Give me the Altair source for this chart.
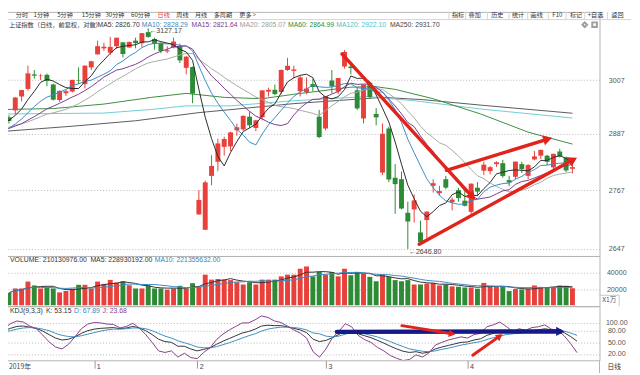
import altair as alt
import pandas as pd

# ------------------------------------------------------------------ data
opens = [2924, 2939, 2970, 2987, 3020, 3016, 3019, 2997, 2962, 2977,
         2981, 3006, 2998, 3036, 3066, 3080, 3070, 3085, 3094, 3082,
         3098, 3092, 3118, 3102, 3093, 3073, 3082, 3085, 3035, 3037,
         2716.7, 2685.3, 2797, 2827, 2859, 2860, 2895, 2897, 2925, 2900,
         2924, 2981, 2985, 2980, 3030, 3028, 2982, 2980, 2998, 2925,
         2899, 3006, 2981, 3038, 3038, 2984, 2921, 3001, 2931, 2804,
         2899, 2793, 2790, 2720, 2727, 2680, 2705, 2776, 2761, 2790,
         2742, 2767, 2745, 2722, 2772, 2808, 2807, 2822, 2824, 2788,
         2795, 2822, 2797, 2832, 2840, 2840, 2815, 2849, 2836, 2812]
highs = [2928, 2968.5, 2985, 3040, 3030, 3021, 3022, 2999, 2983.5, 2986,
         3008, 3036, 3041, 3051, 3098, 3093, 3107, 3105, 3095, 3096,
         3105, 3116, 3127.17, 3105, 3094, 3085, 3105, 3091, 3062, 3038,
         2767, 2787, 2841, 2876.5, 2881, 2892, 2910, 2927.5, 2937, 2918,
         2984, 2990, 2997, 3031, 3058, 3040, 3017, 3013, 3010, 2940,
         2971, 3030, 3012, 3076, 3041, 2991, 2997, 3002, 2944, 2910,
         2903, 2822, 2806, 2743, 2758, 2704, 2723, 2790, 2776, 2797,
         2752, 2772, 2770, 2781, 2784, 2827, 2818, 2828, 2831, 2797,
         2827.5, 2827, 2822, 2850, 2853, 2842, 2844, 2855, 2838, 2825]
lows = [2910, 2930, 2959, 2983, 3010, 3007, 2993, 2961, 2958, 2971,
        2979, 2998, 2988, 3030, 3066, 3074, 3065, 3079, 3059, 3082,
        3080, 3083, 3105, 3077, 3069, 3069, 3080, 3046, 3020, 2955,
        2716, 2685.3, 2777, 2807, 2840, 2850, 2883, 2894, 2900, 2893,
        2917, 2970, 2973, 2975, 3028, 3011, 2970, 2975, 2982, 2878,
        2895, 2977, 2975, 3033, 3020, 2940, 2910, 2965, 2906, 2799,
        2784, 2718, 2727, 2646.8, 2700, 2659, 2668, 2762, 2756, 2769,
        2725, 2743, 2733, 2717, 2755, 2799, 2800, 2816, 2793, 2775,
        2790, 2803, 2790, 2830, 2833, 2820, 2808, 2836, 2805, 2802]
closes = [2915.7, 2967.7, 2984.4, 3022.4, 3017.0, 3017.1, 3004.9, 2962.8, 2982.7, 2981.9,
          3007.4, 3005.0, 3040.0, 3050.1, 3085.2, 3083.8, 3083.4, 3104.8, 3066.9, 3094.9,
          3092.3, 3115.6, 3106.8, 3090.0, 3074.1, 3075.5, 3095.8, 3052.1, 3060.8, 2976.5,
          2746.6, 2783.3, 2818.1, 2866.5, 2876.0, 2890.5, 2901.7, 2926.9, 2906.1, 2917.0,
          2983.6, 2985.0, 2975.4, 3030.2, 3039.7, 3031.2, 3013.1, 2987.9, 2991.3, 2880.3,
          2970.9, 2992.9, 3011.7, 3071.7, 3034.5, 2943.3, 2996.8, 2968.5, 2923.5, 2887.4,
          2789.3, 2779.6, 2728.8, 2702.1, 2745.6, 2660.2, 2722.4, 2781.6, 2764.9, 2772.2,
          2747.2, 2750.3, 2734.5, 2780.6, 2764.0, 2820.8, 2815.4, 2825.9, 2796.6, 2783.0,
          2827.3, 2811.2, 2819.9, 2838.5, 2852.55, 2827.0, 2843.98, 2838.5, 2808.5, 2815.5]
# closes of the 19 sessions before the first visible candle (feed the moving averages)
pre_closes = [2891.3, 2909.2, 2934.0, 2911.1, 2903.6, 2885.3, 2906.2, 2907.1, 2903.2, 2889.7,
              2872.0, 2875.8, 2884.7, 2878.1, 2899.5, 2912.0, 2914.5, 2917.3, 2924.4]
volumes = [15500, 20700, 20700, 29200, 24400, 20700, 21900, 20700, 15900, 17500,
           20400, 25200, 25200, 20700, 29200, 26400, 31300, 28000, 29600, 24800,
           20700, 20700, 24400, 20700, 20700, 19200, 20700, 24000, 20700, 27200,
           22800, 37700, 31600, 32400, 31600, 31000, 28400, 25600, 28400, 25600,
           31600, 31600, 31600, 35600, 37700, 37700, 45000, 47800, 35600, 41000,
           37700, 41000, 35600, 45000, 37000, 41000, 38900, 35000, 29600, 37700,
           35000, 31000, 29600, 31000, 25600, 25600, 26800, 27500, 24400, 25600,
           23300, 22800, 21900, 21900, 20400, 27500, 23300, 23300, 22800, 17500,
           20000, 19500, 20500, 24400, 22400, 22400, 22700, 24300, 24000, 21013]
kdj_k = [80, 86, 91, 92, 89, 86, 79, 70, 61, 56, 58, 64, 73, 80, 84, 86, 87, 88, 85, 87,
         91, 87, 80, 70, 58, 52, 50, 40, 40, 33, 28, 32, 36, 45, 53, 60, 67, 74, 78, 84,
         92, 94, 93, 93, 90, 86, 82, 75, 58, 52, 55, 62, 70, 80, 80, 72, 67, 62, 55, 48,
         40, 33, 27, 24, 26, 22, 25, 33, 38, 42, 46, 50, 51, 56, 59, 68, 73, 78, 77, 74,
         77, 77, 80, 82, 85, 82, 81, 75, 65, 53.15]
kdj_d = [77, 80, 84, 87, 88, 87, 84, 80, 73, 68, 65, 64, 67, 71, 75, 79, 82, 84, 84, 85,
         87, 87, 85, 80, 73, 66, 61, 54, 49, 44, 38, 36, 36, 39, 44, 49, 55, 61, 67, 72,
         79, 84, 87, 89, 89, 88, 86, 82, 74, 72, 66, 64, 66, 71, 75, 74, 72, 68, 64, 58,
         52, 45, 39, 33, 30, 27, 26, 28, 32, 35, 39, 43, 46, 49, 52, 57, 62, 66, 70, 72,
         73, 75, 76, 78, 80, 81, 81, 79, 74, 67.89]
kdj_j = [85, 98, 105, 102, 92, 85, 69, 51, 38, 33, 45, 64, 85, 97, 101, 100, 97, 96, 87, 91,
         99, 87, 70, 50, 28, 24, 28, 12, 22, 11, 8, 24, 36, 57, 71, 82, 91, 100, 100, 108,
         118, 114, 105, 101, 92, 82, 74, 61, 26, 12, 33, 62, 78, 98, 90, 68, 57, 50, 37, 28,
         16, 9, 3, 6, 18, 12, 23, 43, 50, 56, 60, 64, 61, 70, 73, 90, 95, 102, 91, 78,
         85, 81, 88, 90, 95, 84, 81, 67, 47, 23.68]
# long moving averages (candle index, value)
ma60_i = [-0.5, 7, 15, 22.5, 28, 34, 40, 45, 54, 58, 61, 67, 74.5, 82, 89]
ma60_v = [2941, 2943, 2953, 2968, 2977, 2968, 2965, 2975, 2991, 2992, 2986, 2965, 2931, 2891, 2865]
ma120_i = [-0.5, 15, 22.5, 28, 35, 44.5, 56.6, 64.3, 74.5, 89]
ma120_v = [2931, 2933, 2941, 2949, 2949, 2960, 2970, 2960, 2942, 2922]
ma250_i = [-0.5, 10, 20, 30, 45, 59, 65.3, 75, 89]
ma250_v = [2893, 2904, 2916, 2934, 2954, 2968, 2963, 2950, 2932.6]
month_ticks = [14, 30, 50, 72]
month_labels = ["1", "2", "3", "4"]
price_ticks = [2647, 2767, 2887, 3007]
vol_ticks = [20000, 40000]
kdj_ticks = [20, 50, 80, 100]
# hand-drawn arrows (candle index / value pairs)
parrow_i1 = [52.6, 69.1, 64.8]
parrow_p1 = [3067, 2808.7, 2656.3]
parrow_i2 = [73.2, 85.1, 89.1]
parrow_p2 = [2753, 2875.8, 2831.2]
parrow_ang = [47, 343, 332]
karrow_i1 = [61.8, 72.8]
karrow_v1 = [93, 17]
karrow_i2 = [69.6, 77.0]
karrow_v2 = [72, 66]
karrow_ang = [9, 325]
navy_i = [51.7, 86.4]
navy_v = [77, 78]

# ------------------------------------------------------------------ style
RED = "#e8403b"
GREEN = "#2e8b35"
ARED = "#e2231c"
NAVY = "#141a86"
CJK = "Noto Sans CJK SC"
LAT = "Liberation Sans"
W = 608

n = len(closes)
idx = list(range(n))
cd = pd.DataFrame({"i": idx, "o": opens, "h": highs, "l": lows, "c": closes,
                   "v": volumes, "k": kdj_k, "d": kdj_d, "j": kdj_j})
cd["col"] = [RED if c >= o else GREEN for o, c in zip(opens, closes)]
ma_src = pd.DataFrame({"i": list(range(-len(pre_closes), 0)) + idx, "c": pre_closes + closes})
ONE = pd.DataFrame({"z": [0]})

XS = alt.Scale(domain=[-0.46, 92.5], nice=False, zero=False)
PY = alt.Scale(type="log", domain=[2632.65, 3166.1], nice=False, zero=False)
VY = alt.Scale(domain=[-1100, 60700], nice=False, zero=False)
KY = alt.Scale(domain=[3.8, 143], nice=False, zero=False)


def right_axis(vals, fmt):
    return alt.Axis(orient="right", values=vals, format=fmt, grid=True, gridDash=[1, 2],
                    gridColor="#b8b8b8", ticks=False, tickSize=0, domain=False,
                    labelAlign="center", labelBaseline="middle", labelPadding=17,
                    labelFontSize=7.2, labelColor="#555555", labelFont=LAT,
                    minExtent=32, maxExtent=32, title=None)


PAX = right_axis(price_ticks, "d")
VAX = right_axis(vol_ticks, "d")
KAX = right_axis(kdj_ticks, ".2f")
lab_expr = " : ".join(f"datum.value == {t} ? '{s}'" for t, s in zip(month_ticks, month_labels)) + " : ''"
KXAX = alt.Axis(values=month_ticks, labelExpr=lab_expr, orient="bottom", tickSize=8,
                tickColor="#9a9a9a", domain=False, grid=False, labelAlign="left",
                labelBaseline="middle", labelPadding=-2, labelOffset=2, labelFontSize=7.2,
                labelColor="#444444", labelFont=LAT, minExtent=13, maxExtent=13, title=None)


def X(f="i", axis=None):
    return alt.X(f, type="quantitative", scale=XS, axis=axis)


def PYe(f):
    return alt.Y(f, type="quantitative", scale=PY, axis=PAX)


def VYe(f):
    return alt.Y(f, type="quantitative", scale=VY, axis=VAX)


def KYe(f):
    return alt.Y(f, type="quantitative", scale=KY, axis=KAX)


def txt(s, x, y, color="#333333", size=7.2, font=LAT, align="left"):
    return alt.Chart(ONE).mark_text(align=align, baseline="middle", font=font, fontSize=size,
                                    color=color).encode(x=alt.value(x), y=alt.value(y),
                                                        text=alt.value(s))


def hline(x1, x2, y, color="#c8c8c8"):
    return alt.Chart(ONE).mark_rule(color=color, strokeWidth=1).encode(
        x=alt.value(x1), x2=alt.value(x2), y=alt.value(y))


def vline(x, y1, y2, color="#c8c8c8"):
    return alt.Chart(ONE).mark_rule(color=color, strokeWidth=1).encode(
        x=alt.value(x), y=alt.value(y1), y2=alt.value(y2))


# ------------------------------------------------------------------ price panel
wick = alt.Chart(cd).mark_rule(strokeWidth=1).encode(
    x=X(), y=PYe("l"), y2="h:Q", color=alt.Color("col:N", scale=None))
body = alt.Chart(cd).mark_bar(size=5).encode(
    x=X(), y=PYe("o"), y2="c:Q", color=alt.Color("col:N", scale=None))

ma_base = (alt.Chart(ma_src)
           .transform_window(ma5="mean(c)", frame=[-4, 0], sort=[alt.SortField("i")])
           .transform_window(ma10="mean(c)", frame=[-9, 0], sort=[alt.SortField("i")])
           .transform_window(ma15="mean(c)", frame=[-14, 0], sort=[alt.SortField("i")])
           .transform_window(ma20="mean(c)", frame=[-19, 0], sort=[alt.SortField("i")])
           .transform_filter("datum.i >= -1"))


def ma_line(field, color):
    return ma_base.mark_line(color=color, strokeWidth=1, clip=True).encode(x=X(), y=PYe(field))


def sparse_line(ii, vv, color):
    d = pd.DataFrame({"i": ii, "m": vv})
    return alt.Chart(d).mark_line(color=color, strokeWidth=1, clip=True).encode(x=X(), y=PYe("m"))


arr = pd.DataFrame({"i1": parrow_i1, "p1": parrow_p1, "i2": parrow_i2, "p2": parrow_p2})
parrows = alt.Chart(arr).mark_rule(color=ARED, strokeWidth=3.5, strokeCap="round").encode(
    x=X("i1"), x2="i2:Q", y=PYe("p1"), y2="p2:Q")
pheads = [alt.Chart(arr.iloc[[k]]).mark_point(shape="triangle-right", filled=True, size=110,
                                               angle=parrow_ang[k], color=ARED, opacity=1)
          .encode(x=X("i2"), y=PYe("p2")) for k in range(len(parrow_ang))]

extremes = pd.DataFrame({"i": [22, 63], "p": [highs[22], lows[63]],
                         "t": ["←3127.17", "←2646.80"]})
ext_txt = alt.Chart(extremes).mark_text(align="left", baseline="middle", dx=1, dy=3,
                                        font=LAT, fontSize=7.2, color="#444444").encode(
    x=X(), y=PYe("p"), text="t:N")

toolbar_left = [("分时", 15), ("1分钟", 33), ("5分钟", 57), ("15分钟", 82), ("30分钟", 106),
                ("60分钟", 132), ("日线", 159), ("周线", 178), ("月线", 197), ("多周期", 216),
                ("更多 >", 242)]
toolbar_right = [("指标", 458), ("叠加", 475), ("历史", 498), ("统计", 519), ("画线", 538),
                 ("F10", 560), ("标记", 578), ("+自选", 596), ("返回", 620)]
seps = [455, 472, 494, 516, 535, 556, 574, 593, 616]
TY = 3.6
LY = 13.0
price_text = [hline(0, 640, 7.8, "#d4d4d4")]
for s, x in toolbar_left:
    price_text.append(txt(s, x, TY, RED if s == "日线" else "#333333", 6.2, CJK))
for s, x in toolbar_right:
    price_text.append(txt(s, x, TY, "#333333", 6.2, CJK))
for x in seps:
    price_text.append(vline(x, 0, 7.8, "#d4d4d4"))
price_text.append(txt("上证指数（日线，前复权，对数）", 8, LY, "#333333", 6.3, CJK))
price_text.append(alt.Chart(ONE).mark_point(shape="circle", filled=True, size=22, color="#888888",
                                            opacity=1).encode(x=alt.value(93), y=alt.value(LY)))
legend_items = [("MA5: 2826.70", 98, "#333333"), ("MA10: 2828.29", 143, "#3a86bd"),
                ("MA15: 2821.64", 193.5, "#7a3a8a"), ("MA20: 2805.07", 242.5, "#9a9a9a"),
                ("MA60: 2864.99", 291.5, "#2e8b3a"), ("MA120: 2922.10", 340.5, "#4dbfc8"),
                ("MA250: 2931.70", 395, "#444444")]
for s, x, c in legend_items:
    price_text.append(txt(s, x, LY, c, 6.9))
price_text.append(alt.Chart(ONE).mark_point(shape="diamond", filled=False, size=22, color="#777777")
                  .encode(x=alt.value(593), y=alt.value(LY)))
price_text.append(alt.Chart(ONE).mark_point(shape="square", filled=False, size=22, color="#777777")
                  .encode(x=alt.value(603), y=alt.value(LY)))

price = alt.layer(
    sparse_line(ma250_i, ma250_v, "#5a5a5a"),
    sparse_line(ma120_i, ma120_v, "#6fcdd4"),
    sparse_line(ma60_i, ma60_v, "#3d8c3d"),
    wick, body,
    ma_line("ma20", "#a8a8a8"), ma_line("ma15", "#7d3b8c"),
    ma_line("ma10", "#3a8cc4"), ma_line("ma5", "#2a2a2a"),
    parrows, *pheads, ext_txt, *price_text
).properties(width=W, height=248)

# ------------------------------------------------------------------ volume panel
vbars = alt.Chart(cd).mark_bar(size=5).encode(
    x=X(), y=VYe("v"), y2=alt.datum(0), color=alt.Color("col:N", scale=None))
vma5 = (alt.Chart(cd).transform_window(m="mean(v)", frame=[-4, 0], sort=[alt.SortField("i")])
        .mark_line(color="#333333", strokeWidth=1).encode(x=X(), y=VYe("m")))
vma10 = (alt.Chart(cd).transform_window(m="mean(v)", frame=[-9, 0], sort=[alt.SortField("i")])
         .mark_line(color="#3a8cc4", strokeWidth=1).encode(x=X(), y=VYe("m")))
vol_text = [txt("VOLUME: 210130976.00", 9, 4.5, "#333333", 7.0),
            txt("MA5: 228930192.00", 90.7, 4.5, "#333333", 7.0),
            txt("MA10: 221355632.00", 156, 4.5, "#3a86bd", 7.0),
            txt("X1万", 618, 45, "#555555", 6.8, CJK, "center"),
            hline(608, 628, 40, "#c8c8c8"), vline(628, 40, 51, "#c8c8c8")]
volume = alt.layer(vbars, vma5, vma10, *vol_text).properties(width=W, height=51)

# ------------------------------------------------------------------ KDJ panel
kd = alt.Chart(cd)
kline = kd.mark_line(color="#333333", strokeWidth=1, clip=True).encode(x=X(axis=KXAX), y=KYe("k"))
dline = kd.mark_line(color="#3c8fc2", strokeWidth=1, clip=True).encode(x=X(axis=KXAX), y=KYe("d"))
jline = kd.mark_line(color="#8a3d8a", strokeWidth=1, clip=True).encode(x=X(axis=KXAX), y=KYe("j"))
navy = pd.DataFrame({"i1": [navy_i[0]], "v1": [navy_v[0]], "i2": [navy_i[1]], "v2": [navy_v[1]]})
navy_rule = alt.Chart(navy).mark_rule(color=NAVY, strokeWidth=4.5, strokeCap="round").encode(
    x=X("i1", KXAX), x2="i2:Q", y=KYe("v1"), y2="v2:Q")
navy_head = alt.Chart(navy).mark_point(shape="triangle-right", filled=True, size=90, color=NAVY,
                                       opacity=1).encode(x=X("i2", KXAX), y=KYe("v2"))
karr = pd.DataFrame({"i1": karrow_i1, "v1": karrow_v1, "i2": karrow_i2, "v2": karrow_v2})
krules = alt.Chart(karr).mark_rule(color=ARED, strokeWidth=3, strokeCap="round").encode(
    x=X("i1", KXAX), x2="i2:Q", y=KYe("v1"), y2="v2:Q")
kheads = [alt.Chart(karr.iloc[[k]]).mark_point(shape="triangle-right", filled=True, size=60,
                                               angle=karrow_ang[k], color=ARED, opacity=1)
          .encode(x=X("i2", KXAX), y=KYe("v2")) for k in range(len(karrow_ang))]
kdj_text = [txt("KDJ(9,3,3)", 9, 5, "#333333", 7.0),
            txt("K: 53.15", 45.5, 5, "#333333", 7.0),
            txt("D: 67.89", 74, 5, "#3a86bd", 7.0),
            txt("J: 23.68", 103, 5, "#8a3d8a", 7.0),
            txt("2019年", 8, 61.5, "#444444", 7.0, CJK),
            txt("日线", 623, 61.5, "#333333", 6.8, CJK, "center"),
            vline(608, 55, 68, "#b4b4b4")]
kdj = alt.layer(kline, dline, jline, navy_rule, navy_head, krules, *kheads, *kdj_text
                ).properties(width=W, height=55)

chart = (alt.vconcat(price, volume, kdj, spacing=0, bounds="flush")
         .resolve_scale(x="independent", y="independent")
         .properties(padding={"left": -8, "top": 0, "right": 0, "bottom": 0},
                     background="white")
         .configure_view(stroke="#b4b4b4", strokeWidth=1))

chart.save("out.html", embed_options={"renderer": "svg", "actions": False})
